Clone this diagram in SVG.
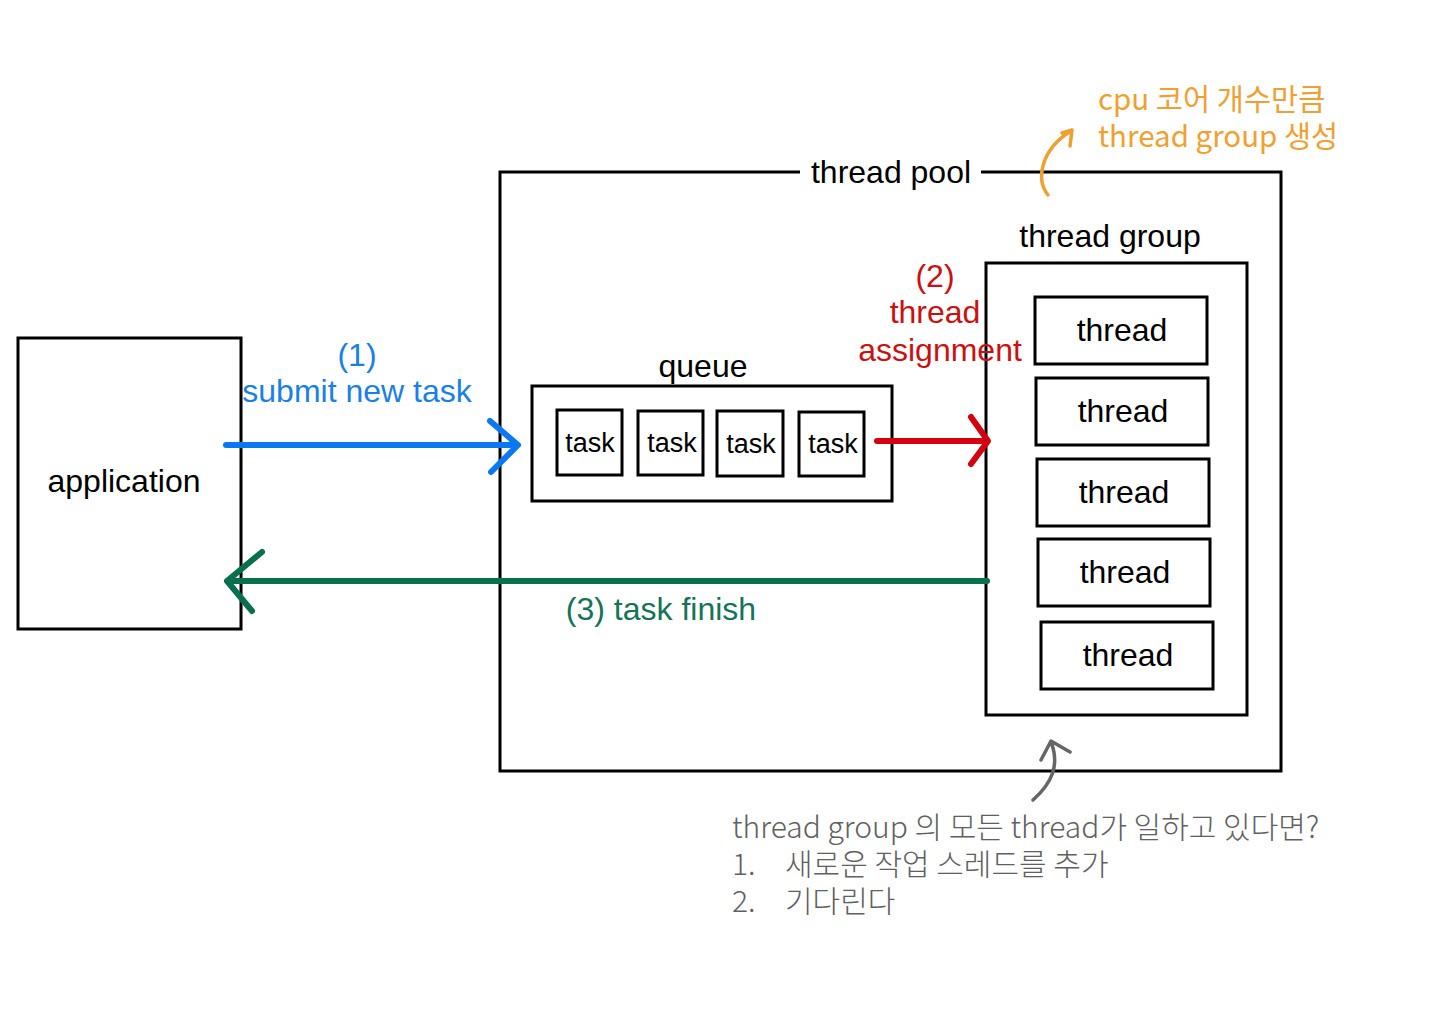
<svg xmlns="http://www.w3.org/2000/svg" width="1440" height="1015" viewBox="0 0 1440 1015">
<style>
.box{fill:none;stroke:#000;stroke-width:3}
.lbl{font-family:"Liberation Sans",Arial,sans-serif;font-size:32px;fill:#000}
.task{font-family:"Liberation Sans",Arial,sans-serif;font-size:27px;fill:#000;text-anchor:middle}
.thr{font-family:"Liberation Sans",Arial,sans-serif;font-size:32px;fill:#000;text-anchor:middle}
.kr{font-family:"Noto Sans CJK KR","Noto Sans",sans-serif;font-size:29.5px}
.gr{font-family:"Noto Sans CJK KR","Noto Sans",sans-serif;font-size:30px;font-weight:300;fill:#606060}
.arr{fill:none;stroke-width:6;stroke-linecap:round;stroke-linejoin:round}
</style>
<rect width="1440" height="1015" fill="#fff"/>
<g id="application">
<rect class="box" x="18" y="338" width="223" height="291"/>
<text class="lbl" x="124" y="492" text-anchor="middle">application</text>
</g>
<g id="thread-pool">
<path class="box" d="M800,172 H500 V771 H1281 V172 H981"/>
<text class="lbl" x="891" y="183" text-anchor="middle">thread pool</text>
</g>
<g id="queue">
<rect class="box" x="532" y="386" width="360" height="115"/>
<text class="lbl" x="703" y="377" text-anchor="middle">queue</text>
</g>
<g id="task1"><rect class="box" x="557" y="410" width="65" height="65"/><text class="task" x="590" y="452">task</text></g>
<g id="task2"><rect class="box" x="638" y="411" width="65" height="64"/><text class="task" x="672" y="452">task</text></g>
<g id="task3"><rect class="box" x="717" y="411" width="66" height="65"/><text class="task" x="751" y="453">task</text></g>
<g id="task4"><rect class="box" x="799" y="412" width="65" height="64"/><text class="task" x="833" y="453">task</text></g>
<g id="thread-group">
<rect class="box" x="986" y="263" width="261" height="452"/>
<text class="lbl" x="1110" y="247" text-anchor="middle">thread group</text>
</g>
<g id="thread1"><rect class="box" x="1035" y="297" width="172" height="67"/><text class="thr" x="1122" y="341">thread</text></g>
<g id="thread2"><rect class="box" x="1036" y="378" width="172" height="67"/><text class="thr" x="1123" y="422">thread</text></g>
<g id="thread3"><rect class="box" x="1037" y="459" width="172" height="67"/><text class="thr" x="1124" y="503">thread</text></g>
<g id="thread4"><rect class="box" x="1038" y="539" width="172" height="67"/><text class="thr" x="1125" y="583">thread</text></g>
<g id="thread5"><rect class="box" x="1041" y="622" width="172" height="67"/><text class="thr" x="1128" y="666">thread</text></g>
<g id="connectors">
<path class="arr" stroke="#0a78f0" d="M226,445 H517 M490,421 L518,445 L491,472"/>
<path class="arr" stroke="#d40010" d="M877,441 H987 M971,417 L988,441 L971,464"/>
<path class="arr" stroke="#09704f" d="M987,581 H227 M262,552 L227,581 L252,611"/>
<path fill="none" stroke="#f0a030" stroke-width="3.5" stroke-linecap="round" stroke-linejoin="round" d="M1048,195 C1036,180 1040,150 1071,131 M1062,133 L1072,130 L1070,146"/>
<path fill="none" stroke="#666" stroke-width="3.5" stroke-linecap="round" stroke-linejoin="round" d="M1033,800 C1052,783 1060,765 1051,742 M1041,760 L1051,741 L1070,752"/>
</g>
<g id="labels">
<text class="lbl" style="fill:#1a7fe6" x="357" y="366" text-anchor="middle">(1)</text>
<text class="lbl" style="fill:#1a7fe6" x="357" y="402" text-anchor="middle">submit new task</text>
<text class="lbl" style="fill:#cc1010" x="935" y="287" text-anchor="middle">(2)</text>
<text class="lbl" style="fill:#cc1010" x="935" y="323" text-anchor="middle">thread</text>
<text class="lbl" style="fill:#cc1010" x="940" y="361" text-anchor="middle">assignment</text>
<text class="lbl" style="fill:#167358" x="661" y="620" text-anchor="middle">(3) task finish</text>
<text class="kr" fill="#f0a030" x="1098" y="110">cpu 코어 개수만큼</text>
<text class="kr" fill="#f0a030" x="1098" y="147">thread group 생성</text>
<text class="gr" x="732" y="838">thread group 의 모든 thread가 일하고 있다면?</text>
<text class="gr" x="732" y="875">1.</text>
<text class="gr" x="785" y="875">새로운 작업 스레드를 추가</text>
<text class="gr" x="732" y="912">2.</text>
<text class="gr" x="785" y="912">기다린다</text>
</g>
</svg>
